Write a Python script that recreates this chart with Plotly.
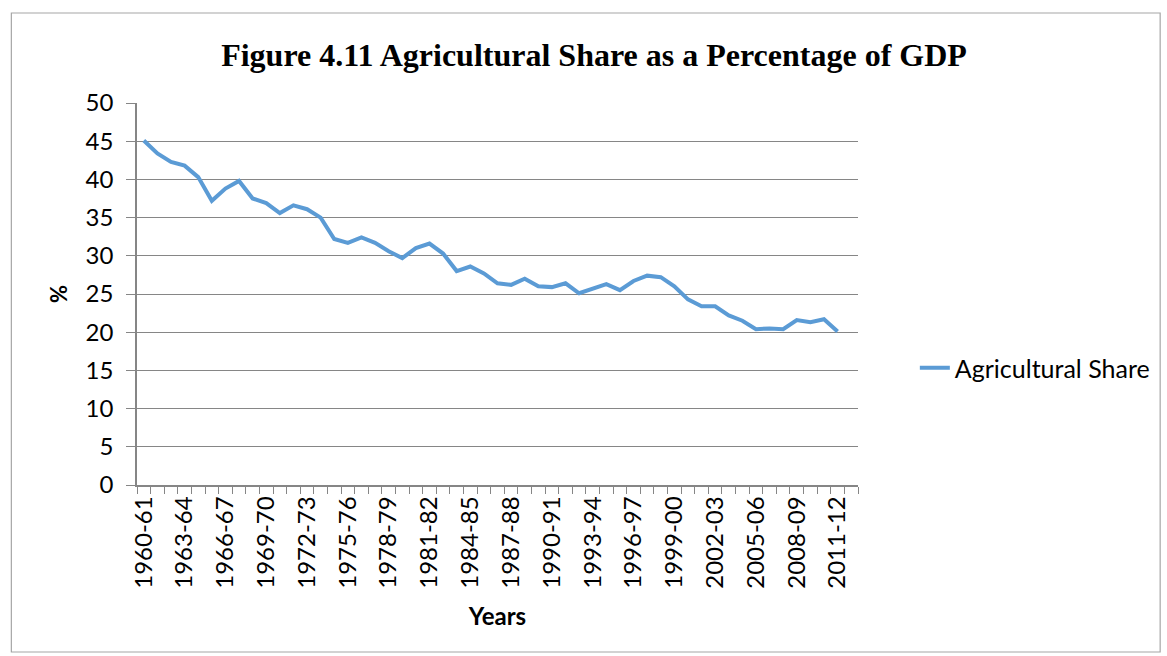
import plotly.graph_objects as go

# Fiscal years shown on the category axis (the final year has no observation)
years = [f"{y}-{str(y + 1)[-2:]}" for y in range(1960, 2013)]

# Agriculture's share of GDP (%)
agri_share = [
    45.1, 43.4, 42.3, 41.8, 40.3, 37.2, 38.8, 39.8, 37.5, 36.9,
    35.6, 36.6, 36.1, 35.0, 32.2, 31.7, 32.4, 31.7, 30.6, 29.7,
    31.0, 31.6, 30.3, 28.0, 28.6, 27.7, 26.4, 26.2, 27.0, 26.0,
    25.9, 26.4, 25.1, 25.7, 26.3, 25.5, 26.7, 27.4, 27.2, 26.0,
    24.3, 23.4, 23.4, 22.2, 21.5, 20.4, 20.5, 20.4, 21.6, 21.3,
    21.7, 20.1, None,
]

y_ticks = list(range(0, 55, 5))

x_idx = list(range(len(years)))
label_idx = x_idx[::3]

W, H = 1167, 656
L, R, T, B = 137, 307, 103, 171
pw, ph = W - L - R, H - T - B

fig = go.Figure()
fig.add_trace(go.Scatter(
    x=x_idx, y=agri_share, mode="lines", name="Agricultural Share",
    line=dict(color="#5B9BD5", width=4),
    connectgaps=False,
))

grid = "#868686"
sans = "Lato, Noto Sans, sans-serif"
tick_font = dict(family=sans, size=24, color="#000000")

fig.update_layout(
    width=W, height=H,
    margin=dict(l=L, r=R, t=T, b=B),
    paper_bgcolor="white", plot_bgcolor="white",
    title=dict(
        text="<b>Figure 4.11 Agricultural Share as a Percentage of GDP</b>",
        font=dict(family="Liberation Serif, Times New Roman, serif", size=32, color="#000000"),
        x=594 / W, xanchor="center", y=1 - 55 / H, yanchor="middle",
    ),
    showlegend=True,
    legend=dict(
        x=(917 - L) / pw, xanchor="left",
        y=(485 - 368) / ph, yanchor="middle",
        font=dict(family=sans, size=25, color="#000000"),
        bgcolor="rgba(0,0,0,0)",
    ),
    xaxis=dict(
        range=[-0.5, len(years) - 0.5],
        tickmode="array", tickvals=label_idx,
        ticktext=[years[i] for i in label_idx],
        tickangle=-90, tickfont=tick_font,
        ticks="outside", ticklen=0, tickcolor=grid,
        minor=dict(ticks="outside", ticklen=7, tickcolor=grid,
                   tick0=-0.5, dtick=1, showgrid=False),
        showgrid=False, zeroline=False,
        showline=True, linecolor=grid, linewidth=1.5,
        title=dict(text="<b>Years</b>",
                   font=dict(family=sans, size=24, color="#000000"),
                   standoff=20),
    ),
    yaxis=dict(
        range=[0, 50], tickmode="array", tickvals=y_ticks,
        tickfont=tick_font,
        ticks="outside", ticklen=9, tickcolor=grid,
        ticklabelstandoff=8,
        showgrid=True, gridcolor=grid, gridwidth=1.2,
        zeroline=False,
        showline=True, linecolor=grid, linewidth=1.5,
        title=dict(text="<b>%</b>",
                   font=dict(family=sans, size=22, color="#000000"),
                   standoff=12),
    ),
)

# Chart-area border
fig.add_shape(
    type="rect", xref="paper", yref="paper",
    x0=(11 - L) / pw, x1=(1163 - L) / pw,
    y0=(H - 652 - B) / ph, y1=(H - 13 - B) / ph,
    line=dict(color="#a6a6a6", width=1.2), fillcolor="rgba(0,0,0,0)",
    layer="below",
)

fig.write_html("out.html")
